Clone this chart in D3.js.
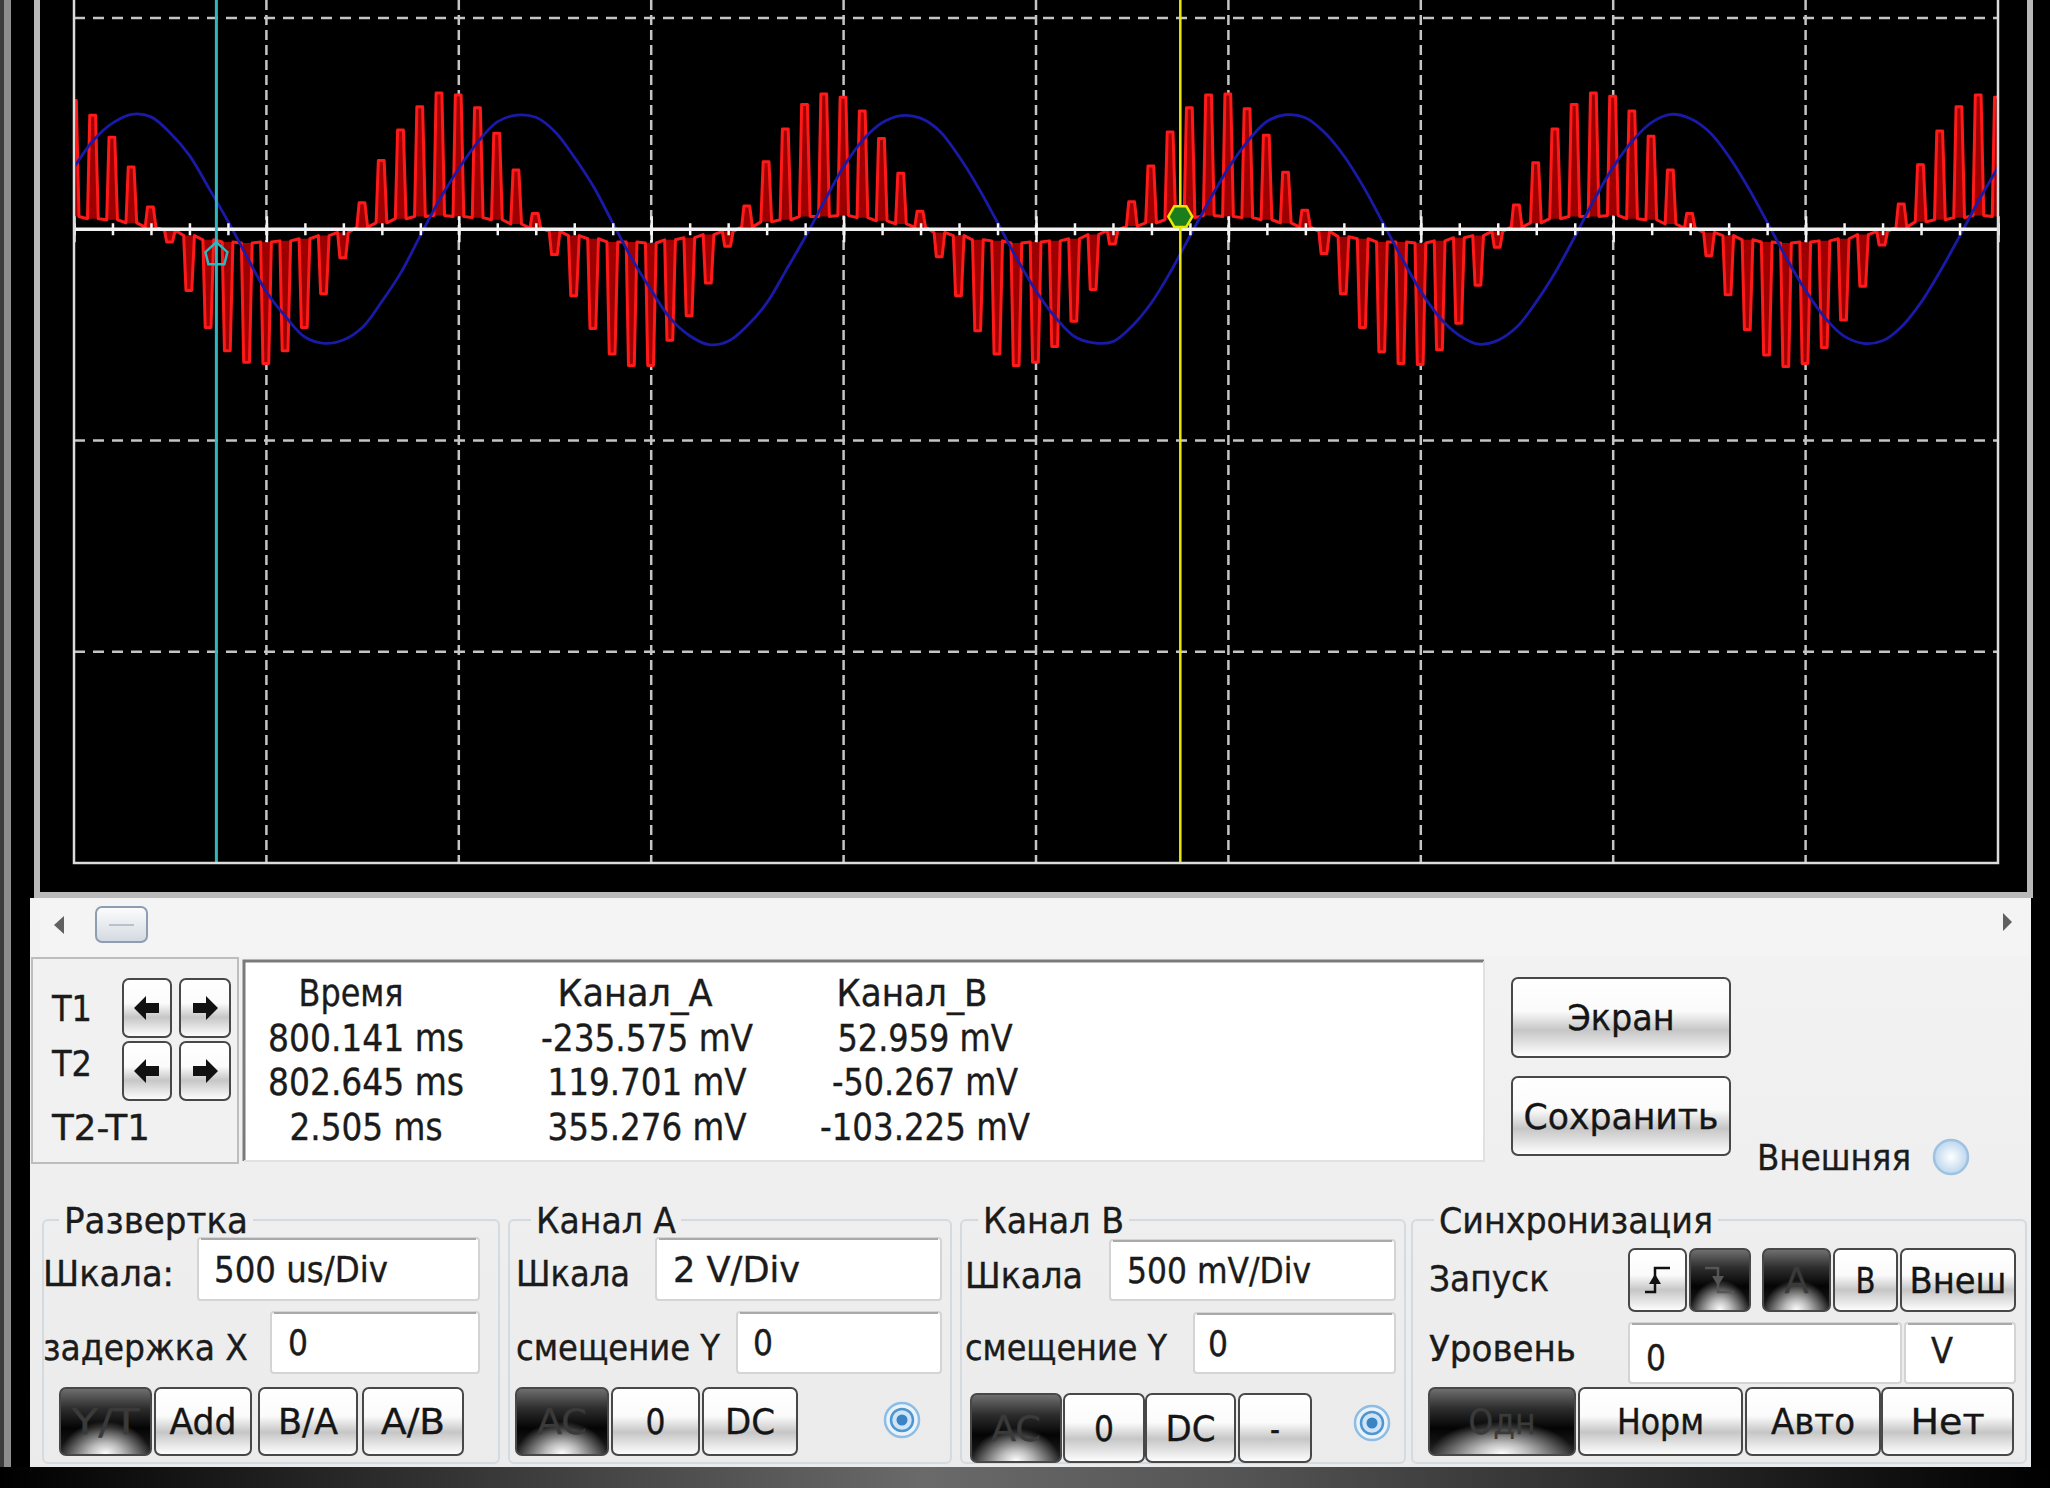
<!DOCTYPE html>
<html>
<head>
<meta charset="utf-8">
<script src="https://cdn.jsdelivr.net/npm/d3@7"></script>
<style>
  body { margin: 0; background: #000; overflow: hidden; }
</style>
</head>
<body>
<svg id="scope" width="2050" height="1488"></svg>
<script>
// time base 500 us/Div, 10 divisions across the screen
const timeTicks = [0, 0.5, 1, 1.5, 2, 2.5, 3, 3.5, 4, 4.5, 5]   // ms
const divTicks = [-3, -2, -1, 0, 1]                              // divisions from the trace zero
const sampleStep = 0.05                                          // ms between pulses / samples
const chA_voltsPerDiv = 2
const chB_voltsPerDiv = 0.5

// channel A (red): top of every pulse and the level between pulses, V
const chA_peaks = [
  1.22, 1.08, 0.87, 0.59, 0.21, -0.12, -0.58, -0.93, -1.15, -1.26, -1.27, -1.15, -0.93, -0.61, -0.27, 0.25, 0.65, 0.94, 1.16, 1.29,
  1.27, 1.15, 0.91, 0.56, 0.15, -0.24, -0.63, -0.94, -1.18, -1.29, -1.29, -1.05, -0.82, -0.51, -0.16, 0.22, 0.64, 0.95, 1.18, 1.28,
  1.25, 1.12, 0.86, 0.53, 0.17, -0.26, -0.63, -0.96, -1.18, -1.29, -1.26, -1.11, -0.87, -0.57, -0.14, 0.26, 0.60, 0.92, 1.15, 1.27,
  1.28, 1.14, 0.89, 0.54, 0.18, -0.23, -0.61, -0.93, -1.16, -1.27, -1.28, -1.14, -0.89, -0.53, -0.17, 0.23, 0.63, 0.95, 1.18, 1.29,
  1.26, 1.12, 0.88, 0.56, 0.15, -0.25, -0.62, -0.95, -1.19, -1.30, -1.27, -1.12, -0.86, -0.54, -0.15, 0.24, 0.61, 0.93, 1.16, 1.27,
  1.25
]
const chA_base = [
  0.12, 0.10, 0.09, 0.06, 0.02, -0.01, -0.06, -0.10, -0.12, -0.13, -0.12, -0.11, -0.09, -0.06, -0.03, 0.02, 0.06, 0.10, 0.12, 0.13,
  0.12, 0.11, 0.09, 0.05, 0.01, -0.02, -0.06, -0.09, -0.12, -0.12, -0.13, -0.10, -0.08, -0.05, -0.02, 0.02, 0.07, 0.09, 0.12, 0.12,
  0.13, 0.11, 0.08, 0.05, 0.02, -0.03, -0.06, -0.10, -0.11, -0.13, -0.12, -0.11, -0.09, -0.05, -0.01, 0.03, 0.06, 0.09, 0.11, 0.13,
  0.12, 0.11, 0.09, 0.06, 0.02, -0.02, -0.07, -0.09, -0.12, -0.12, -0.13, -0.11, -0.08, -0.06, -0.02, 0.02, 0.06, 0.10, 0.12, 0.12,
  0.13, 0.10, 0.09, 0.05, 0.01, -0.03, -0.06, -0.10, -0.12, -0.13, -0.12, -0.11, -0.09, -0.05, -0.02, 0.02, 0.07, 0.09, 0.11, 0.13,
  0.12
]
// channel B (blue), V
const chB_values = [
  0.146, 0.210, 0.251, 0.272, 0.266, 0.228, 0.175, 0.098, 0.019, -0.066, -0.148, -0.207, -0.255, -0.270, -0.262, -0.232, -0.171, -0.102, -0.015, 0.070,
  0.144, 0.207, 0.254, 0.270, 0.265, 0.231, 0.171, 0.101, 0.015, -0.070, -0.144, -0.211, -0.252, -0.273, -0.265, -0.228, -0.175, -0.098, -0.019, 0.066,
  0.148, 0.211, 0.252, 0.269, 0.263, 0.232, 0.172, 0.099, 0.016, -0.069, -0.146, -0.208, -0.254, -0.269, -0.266, -0.229, -0.174, -0.100, -0.016, 0.067,
  0.145, 0.208, 0.255, 0.271, 0.264, 0.229, 0.174, 0.102, 0.018, -0.067, -0.147, -0.210, -0.251, -0.272, -0.263, -0.231, -0.172, -0.101, -0.018, 0.069,
  0.147, 0.209, 0.253, 0.272, 0.262, 0.230, 0.173, 0.100, 0.017, -0.068, -0.145, -0.209, -0.253, -0.270, -0.264, -0.230, -0.173, -0.099, -0.017, 0.068,
  0.146
]

// cursors T1 / T2 (ms on screen) and channel A reading under them (V)
const cursorTimes = [0.37, 2.875]
const cursorA = [-0.235575, 0.119701]

// readout table
const readHeader = ['Время', 'Канал_A', 'Канал_B']
const cursorNames = ['T1', 'T2', 'T2-T1']
const readTime = ['800.141 ms', '802.645 ms', '2.505 ms']
const readA = ['-235.575 mV', '119.701 mV', '355.276 mV']
const readB = ['52.959 mV', '-50.267 mV', '-103.225 mV']

const svg = d3.select('#scope')
const defs = svg.append('defs')

function vGrad(id, stops) {
  const g = defs.append('linearGradient').attr('id', id)
    .attr('x1', 0).attr('y1', 0).attr('x2', 0).attr('y2', 1)
  stops.forEach(s => g.append('stop').attr('offset', s[0]).attr('stop-color', s[1]))
}
vGrad('btnLight', [[0, '#ffffff'], [0.42, '#fbfbfb'], [0.66, '#c6c6c6'], [0.86, '#e8e8e8'], [1, '#ffffff']])
vGrad('btnDark', [[0, '#727272'], [0.3, '#2e2e2e'], [0.6, '#040404'], [0.82, '#141414'], [1, '#303030']])
vGrad('thumb', [[0, '#fdfdfd'], [1, '#d3d9e1']])
vGrad('panelBg', [[0, '#f3f3f3'], [1, '#ebebeb']])

const glow = defs.append('radialGradient').attr('id', 'glow')
  .attr('cx', 0.5).attr('cy', 1).attr('r', 0.5)
glow.append('stop').attr('offset', 0).attr('stop-color', '#fff').attr('stop-opacity', 1)
glow.append('stop').attr('offset', 0.35).attr('stop-color', '#fff').attr('stop-opacity', 0.7)
glow.append('stop').attr('offset', 1).attr('stop-color', '#fff').attr('stop-opacity', 0)

const radioOff = defs.append('radialGradient').attr('id', 'radioOff')
radioOff.append('stop').attr('offset', 0).attr('stop-color', '#ffffff')
radioOff.append('stop').attr('offset', 1).attr('stop-color', '#bcd6ee')

const chrome = defs.append('linearGradient').attr('id', 'chrome')
chrome.append('stop').attr('offset', 0).attr('stop-color', '#000')
chrome.append('stop').attr('offset', 0.45).attr('stop-color', '#6a6a6a')
chrome.append('stop').attr('offset', 0.6).attr('stop-color', '#555')
chrome.append('stop').attr('offset', 1).attr('stop-color', '#000')

defs.append('clipPath').attr('id', 'plotClip')
  .append('rect').attr('x', 74).attr('y', 0).attr('width', 1924).attr('height', 863)

svg.append('rect').attr('width', 2050).attr('height', 1488).attr('fill', '#000')

// window edge on the left
svg.append('rect').attr('x', 0).attr('y', 0).attr('width', 4).attr('height', 1468).attr('fill', '#3c3c3c')
svg.append('rect').attr('x', 4).attr('y', 0).attr('width', 7).attr('height', 1468).attr('fill', '#8d8d8d')

// ---------- scope screen ----------
const x = d3.scaleLinear().domain([0, 5]).range([74, 1998])
const yDiv = d3.scaleLinear().domain([-3, 1]).range([863, 18])
const yA = d3.scaleLinear().domain([-3 * chA_voltsPerDiv, chA_voltsPerDiv]).range([863, 18])
const yB = d3.scaleLinear().domain([-3 * chB_voltsPerDiv, chB_voltsPerDiv]).range([863, 18])

const screen = svg.append('g')

screen.selectAll('.vgrid')
  .data(timeTicks.slice(1, -1))
  .enter()
  .append('line')
  .classed('vgrid', true)
  .attr('x1', d => x(d)).attr('x2', d => x(d))
  .attr('y1', 0).attr('y2', 863)
  .attr('stroke', '#c4c4c4').attr('stroke-width', 2.5)
  .attr('stroke-dasharray', '10,5')

screen.selectAll('.hgrid')
  .data(divTicks.filter(d => d !== 0 && d !== -3))
  .enter()
  .append('line')
  .classed('hgrid', true)
  .attr('x1', 74).attr('x2', 1998)
  .attr('y1', d => yDiv(d)).attr('y2', d => yDiv(d))
  .attr('stroke', '#c4c4c4').attr('stroke-width', 2.5)
  .attr('stroke-dasharray', '11,8')

// traces
const traces = screen.append('g').attr('clip-path', 'url(#plotClip)')

const redPts = []
chA_peaks.forEach((p, i) => {
  const t = i * sampleStep
  const b = chA_base[i]
  redPts.push([t - 0.015, b, b], [t - 0.009, p, b], [t + 0.006, p, b], [t + 0.013, b, b])
})

traces.append('path')
  .datum(redPts)
  .attr('d', d3.area().x(d => x(d[0])).y0(d => yA(d[2])).y1(d => yA(d[1])))
  .attr('fill', '#9c0000')

traces.append('path')
  .datum(redPts)
  .attr('d', d3.line().x(d => x(d[0])).y(d => yA(d[1])))
  .attr('fill', 'none')
  .attr('stroke', '#ff1a1a')
  .attr('stroke-width', 3)
  .attr('stroke-linejoin', 'round')

traces.append('path')
  .datum(chB_values.map((v, k) => [k * sampleStep, v]))
  .attr('d', d3.line().x(d => x(d[0])).y(d => yB(d[1])).curve(d3.curveCatmullRom))
  .attr('fill', 'none')
  .attr('stroke', '#1a1aa8')
  .attr('stroke-width', 2.8)

// zero line with its ticks
screen.append('line')
  .attr('x1', 74).attr('x2', 1998)
  .attr('y1', yDiv(0)).attr('y2', yDiv(0))
  .attr('stroke', '#f2f2f2').attr('stroke-width', 3.5)

screen.append('g')
  .attr('transform', `translate(0,${yDiv(0) - 6})`)
  .call(d3.axisBottom(x).tickValues(x.ticks(50)).tickSize(12).tickFormat(''))
  .call(g => g.select('.domain').remove())
  .selectAll('line').attr('stroke', '#f2f2f2').attr('stroke-width', 2.5)

screen.append('g')
  .attr('transform', `translate(0,${yDiv(0) - 13})`)
  .call(d3.axisBottom(x).tickValues(timeTicks).tickSize(26).tickFormat(''))
  .call(g => g.select('.domain').remove())
  .selectAll('line').attr('stroke', '#f2f2f2').attr('stroke-width', 2.5)

// cursors
const cursorColors = ['#2cb8be', '#e8e800']
screen.selectAll('.cursor')
  .data(cursorTimes)
  .enter()
  .append('line')
  .classed('cursor', true)
  .attr('x1', d => x(d)).attr('x2', d => x(d))
  .attr('y1', 0).attr('y2', 863)
  .attr('stroke', (d, i) => cursorColors[i])
  .attr('stroke-width', (d, i) => i === 0 ? 3 : 2.5)

const c1x = x(cursorTimes[0]), c1y = yA(cursorA[0])
screen.append('path')
  .attr('d', `M${c1x},${c1y - 12} L${c1x + 11},${c1y - 2} L${c1x + 8},${c1y + 10} L${c1x - 8},${c1y + 10} L${c1x - 11},${c1y - 2} Z`)
  .attr('fill', 'none').attr('stroke', cursorColors[0]).attr('stroke-width', 2.5)

const c2x = x(cursorTimes[1]), c2y = yA(cursorA[1])
const hex = d3.range(6).map(k => [c2x + 12 * Math.cos(Math.PI / 3 * k), c2y + 12 * Math.sin(Math.PI / 3 * k)])
screen.append('polygon')
  .attr('points', hex.map(p => p.join(',')).join(' '))
  .attr('fill', '#1b7d1b').attr('stroke', cursorColors[1]).attr('stroke-width', 2.5)

// frames
screen.append('path')
  .attr('d', 'M74,0 V863 H1998 V0')
  .attr('fill', 'none').attr('stroke', '#dcdcdc').attr('stroke-width', 2.5)
screen.append('path')
  .attr('d', 'M37,0 V895 H2030 V0')
  .attr('fill', 'none').attr('stroke', '#b9b9b9').attr('stroke-width', 6)

// ---------- control panel ----------
svg.append('rect').attr('x', 30).attr('y', 898).attr('width', 2001).attr('height', 569).attr('fill', 'url(#panelBg)')
svg.append('rect').attr('x', 0).attr('y', 1467).attr('width', 2050).attr('height', 21).attr('fill', 'url(#chrome)')

const ui = svg.append('g')
  .attr('font-family', '"DejaVu Sans Condensed", "DejaVu Sans", "Liberation Sans", sans-serif')
  .attr('fill', '#1b1b1b')
  .attr('stroke', '#1b1b1b').attr('stroke-width', 0.35)

function label(px, cy, s, w, size, anchor, color) {
  const fs = size || 36
  return ui.append('text')
    .attr('x', px).attr('y', cy + fs * 0.36)
    .attr('font-size', fs)
    .attr('text-anchor', anchor || 'start')
    .attr('textLength', w).attr('lengthAdjust', 'spacingAndGlyphs')
    .attr('fill', color || '#1b1b1b').attr('stroke', color || '#1b1b1b')
    .text(s)
}

function button(x0, y0, w, h, s, dark, tw) {
  const g = ui.append('g').attr('stroke-width', null)
  g.append('rect').attr('x', x0).attr('y', y0).attr('width', w).attr('height', h).attr('rx', 6)
    .attr('fill', dark ? 'url(#btnDark)' : 'url(#btnLight)')
    .attr('stroke', '#484848').attr('stroke-width', 2)
  if (dark) {
    g.append('rect').attr('x', x0 + 1).attr('y', y0 + 1).attr('width', w - 2).attr('height', h - 2).attr('rx', 6)
      .attr('fill', 'url(#glow)').attr('stroke', 'none')
  }
  if (s) label(x0 + w / 2, y0 + h / 2, s, tw, 35, 'middle', dark ? '#3a3a3a' : '#151515')
  return g
}

function inputBox(x0, y0, w, h, s, tx, tw, ty) {
  ui.append('rect').attr('x', x0).attr('y', y0).attr('width', w).attr('height', h).attr('rx', 3)
    .attr('fill', '#fff').attr('stroke', '#d4d4d4').attr('stroke-width', 2)
  ui.append('line').attr('x1', x0 + 3).attr('x2', x0 + w - 3).attr('y1', y0 + 1).attr('y2', y0 + 1)
    .attr('stroke', '#a9a9a9').attr('stroke-width', 2)
  label(tx, ty || y0 + h / 2, s, tw, 35)
}

function radio(cx, cy, on) {
  if (on) {
    ui.append('circle').attr('cx', cx).attr('cy', cy).attr('r', 17).attr('fill', '#eaf3fb').attr('stroke', '#8dbde4').attr('stroke-width', 2.5)
    ui.append('circle').attr('cx', cx).attr('cy', cy).attr('r', 11).attr('fill', '#cfe5f7').attr('stroke', '#4f95d0').attr('stroke-width', 2.5)
    ui.append('circle').attr('cx', cx).attr('cy', cy).attr('r', 5.5).attr('fill', '#3a83c4').attr('stroke', 'none')
  } else {
    ui.append('circle').attr('cx', cx).attr('cy', cy).attr('r', 17).attr('fill', 'url(#radioOff)').attr('stroke', '#9fc2e0').attr('stroke-width', 2.5)
  }
}

function groupBox(x0, y0, w, h, title, tx, tw) {
  ui.append('rect').attr('x', x0).attr('y', y0).attr('width', w).attr('height', h).attr('rx', 5)
    .attr('fill', 'none').attr('stroke', '#d3dae0').attr('stroke-width', 2)
  ui.append('rect').attr('x', tx - 5).attr('y', y0 - 6).attr('width', tw + 10).attr('height', 12)
    .attr('fill', '#efefef').attr('stroke', 'none')
  label(tx, y0, title, tw)
}

// scrollbar
ui.append('rect').attr('x', 40).attr('y', 898).attr('width', 1988).attr('height', 58).attr('fill', '#f4f4f4').attr('stroke', 'none')
ui.append('polygon').attr('points', '54,925 64,916 64,934').attr('fill', '#606060').attr('stroke', 'none')
ui.append('polygon').attr('points', '2012,922 2003,913 2003,931').attr('fill', '#606060').attr('stroke', 'none')
ui.append('rect').attr('x', 96).attr('y', 907).attr('width', 51).attr('height', 35).attr('rx', 6)
  .attr('fill', 'url(#thumb)').attr('stroke', '#8e9db1').attr('stroke-width', 2)
ui.append('line').attr('x1', 109).attr('x2', 134).attr('y1', 925).attr('y2', 925).attr('stroke', '#b8c2cf').attr('stroke-width', 2)

// cursor box
ui.append('rect').attr('x', 32).attr('y', 958).attr('width', 206).attr('height', 205)
  .attr('fill', '#f1f1f1').attr('stroke', '#bdbdbd').attr('stroke-width', 2)
label(52, 1008, cursorNames[0], 40)
label(52, 1063, cursorNames[1], 40)
label(52, 1127, cursorNames[2], 98)

function arrowButton(x0, y0, w, h, dir) {
  button(x0, y0, w, h, '', false)
  const cx = x0 + w / 2, cy = y0 + h / 2, s = dir
  ui.append('polygon')
    .attr('points', [[cx - 13 * s, cy], [cx - 1 * s, cy - 12], [cx - 1 * s, cy - 5], [cx + 12 * s, cy - 5],
      [cx + 12 * s, cy + 5], [cx - 1 * s, cy + 5], [cx - 1 * s, cy + 12]].map(p => p.join(',')).join(' '))
    .attr('fill', '#111').attr('stroke', 'none')
}
arrowButton(123, 979, 48, 58, 1)
arrowButton(180, 979, 50, 58, -1)
arrowButton(123, 1042, 48, 58, 1)
arrowButton(180, 1042, 50, 58, -1)

// readout
ui.append('rect').attr('x', 243).attr('y', 960).attr('width', 1241).attr('height', 201).attr('fill', '#fff').attr('stroke', 'none')
ui.append('path').attr('d', 'M244,1161 V961 H1484').attr('fill', 'none').attr('stroke', '#7a7a7a').attr('stroke-width', 3)
ui.append('path').attr('d', 'M244,1161 H1484 V961').attr('fill', 'none').attr('stroke', '#e1e1e1').attr('stroke-width', 2)

const colCenters = [366, 647, 925]
const headerCenters = [351, 635, 912]
const headerW = [105, 155, 151]
readHeader.forEach((h, i) => label(headerCenters[i], 993, h, headerW[i], 37, 'middle'))
const rowY = [1038, 1082, 1127]
const timeW = [196, 196, 153], aW = [212, 199, 199], bW = [175, 186, 210]
rowY.forEach((ry, r) => {
  label(colCenters[0], ry, readTime[r], timeW[r], 37, 'middle')
  label(colCenters[1], ry, readA[r], aW[r], 37, 'middle')
  label(colCenters[2], ry, readB[r], bW[r], 37, 'middle')
})

button(1512, 978, 218, 79, 'Экран', false, 107)
button(1512, 1077, 218, 78, 'Сохранить', false, 195)
label(1757, 1157, 'Внешняя', 154)
radio(1951, 1157, false)

// Развертка
groupBox(43, 1220, 456, 243, 'Развертка', 64, 184)
label(43, 1273, 'Шкала:', 131)
inputBox(198, 1238, 281, 62, '500 us/Div', 214, 174)
label(43, 1347, 'задержка X', 205)
inputBox(271, 1312, 208, 61, '0', 288, 20)
button(60, 1388, 91, 67, 'Y/T', true, 68)
button(155, 1388, 96, 67, 'Add', false, 67)
button(259, 1388, 98, 67, 'B/A', false, 60)
button(363, 1388, 100, 67, 'A/B', false, 64)

// Канал A
groupBox(509, 1220, 442, 243, 'Канал A', 536, 140)
label(516, 1273, 'Шкала', 114)
inputBox(656, 1238, 285, 62, '2  V/Div', 673, 127)
label(516, 1347, 'смещение Y', 204)
inputBox(737, 1312, 204, 61, '0', 753, 20)
button(516, 1388, 92, 67, 'AC', true, 50)
button(612, 1388, 87, 67, '0', false, 20)
button(703, 1388, 94, 67, 'DC', false, 50)
radio(902, 1420, true)

// Канал B
groupBox(961, 1220, 444, 243, 'Канал B', 983, 141)
label(965, 1275, 'Шкала', 118)
inputBox(1110, 1240, 285, 60, '500 mV/Div', 1127, 184)
label(965, 1347, 'смещение Y', 202)
inputBox(1194, 1313, 201, 60, '0', 1208, 20)
button(971, 1394, 90, 68, 'AC', true, 50)
button(1064, 1394, 80, 68, '0', false, 20)
button(1146, 1394, 89, 68, 'DC', false, 50)
button(1239, 1394, 72, 68, '-', false, 10)
radio(1372, 1423, true)

// Синхронизация
groupBox(1412, 1220, 614, 243, 'Синхронизация', 1439, 274)
label(1429, 1278, 'Запуск', 120)
button(1629, 1249, 57, 62, '', false)
ui.append('path').attr('d', 'M1645,1292 H1655 V1268 H1670').attr('fill', 'none').attr('stroke', '#111').attr('stroke-width', 2.5)
ui.append('polygon').attr('points', '1649,1284 1661,1284 1655,1274').attr('fill', '#111').attr('stroke', 'none')
button(1690, 1249, 60, 62, '', true)
ui.append('path').attr('d', 'M1705,1268 H1718 V1292 H1734').attr('fill', 'none').attr('stroke', '#555').attr('stroke-width', 2.5)
ui.append('polygon').attr('points', '1712,1276 1724,1276 1718,1286').attr('fill', '#555').attr('stroke', 'none')
button(1763, 1249, 67, 62, 'A', true, 24)
button(1834, 1249, 63, 62, 'B', false, 20)
button(1901, 1249, 114, 62, 'Внеш', false, 97)
label(1429, 1348, 'Уровень', 147)
inputBox(1629, 1323, 272, 60, '0', 1646, 20, 1357)
inputBox(1905, 1323, 110, 60, 'V', 1931, 22, 1350)
button(1429, 1388, 146, 67, 'Одн', true, 67)
button(1579, 1388, 163, 67, 'Норм', false, 87)
button(1746, 1388, 134, 67, 'Авто', false, 84)
button(1882, 1388, 131, 67, 'Нет', false, 74)
</script>
</body>
</html>
